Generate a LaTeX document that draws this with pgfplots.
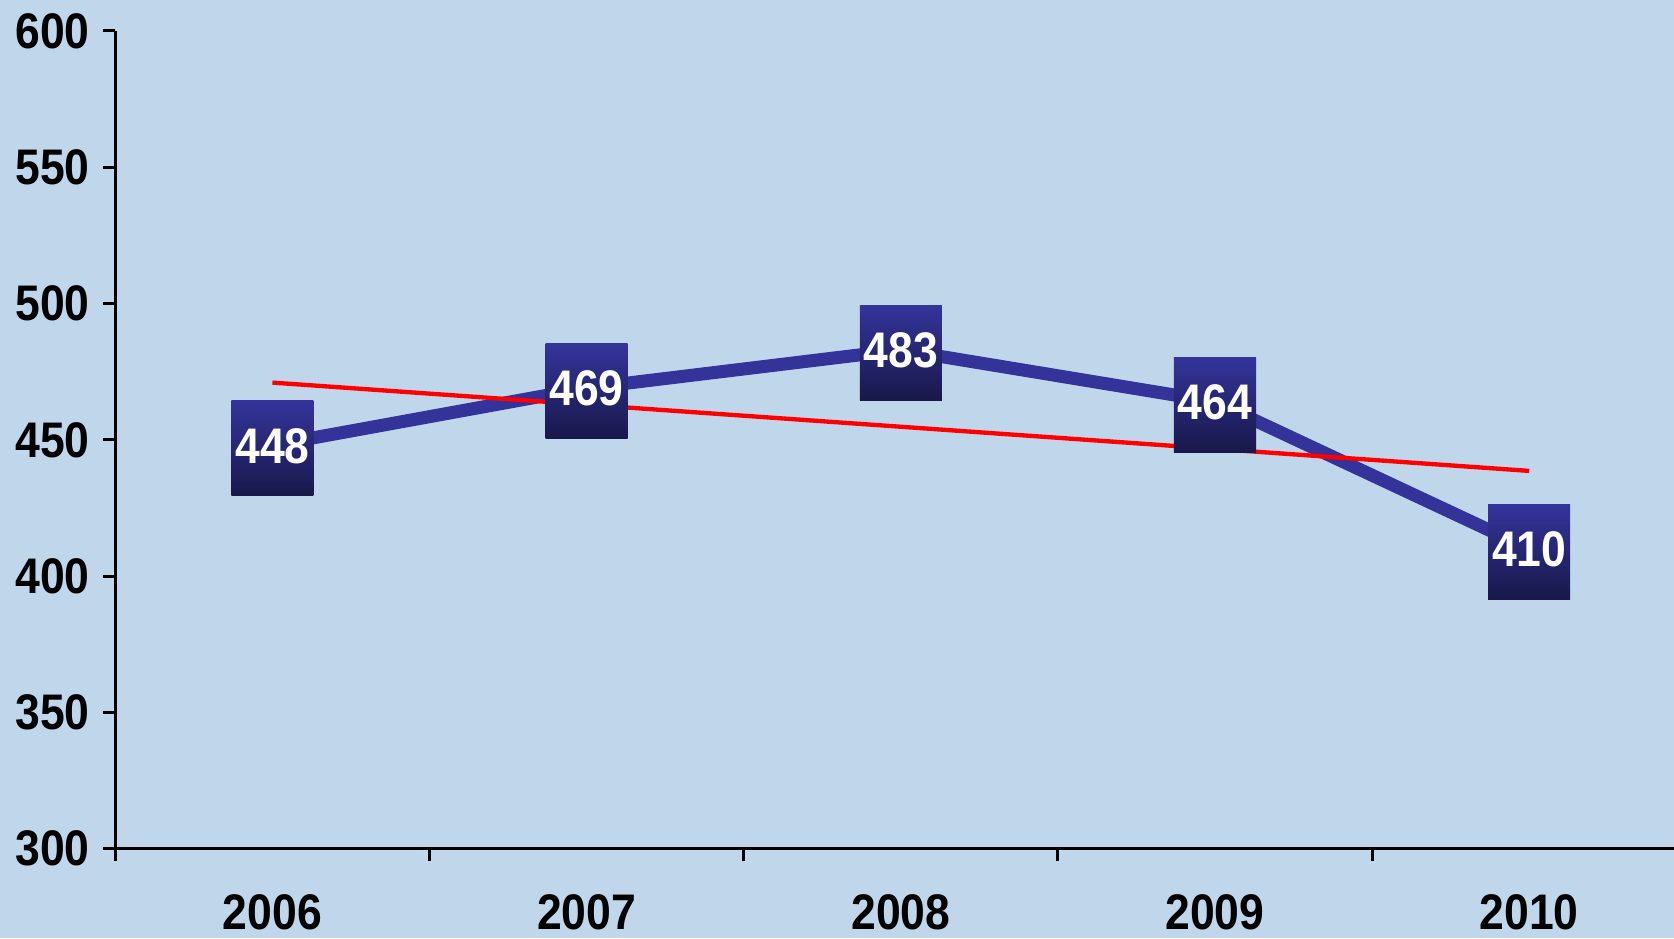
\documentclass[border=0pt]{standalone}
\usepackage{fontspec}
\setmainfont{Liberation Sans}[FakeStretch=0.89]
\usepackage{pgfplots}
\pgfplotsset{compat=1.18}
\definecolor{bg}{RGB}{192,214,235}
\definecolor{lineblue}{RGB}{51,51,153}
\definecolor{boxtop}{RGB}{52,52,156}
\definecolor{boxbot}{RGB}{24,24,74}
\begin{document}
\begin{tikzpicture}
\useasboundingbox (0,0) rectangle (502.2pt,281.4pt);
\fill[bg] (0,0) rectangle (502.2pt,281.4pt);
\begin{axis}[
  at={(34.6pt,26.8pt)}, anchor=south west,
  scale only axis, width=467.6pt, height=245.3pt,
  xmin=-0.5, xmax=4.461, ymin=300, ymax=600,
  axis x line=bottom, axis y line=left,
  axis line style={-, black, line width=0.9pt},
  tick align=outside, major tick length=3.6pt,
  tick style={black, line width=0.9pt},
  xtick={-0.5,0.5,1.5,2.5,3.5,4.5},
  xticklabels={2006,2007,2008,2009,2010,},
  xticklabel style={xshift=47.13pt, yshift=-6.7pt},
  ytick={300,350,...,600},
  yticklabel style={xshift=-0.6pt},
  ticklabel style={font=\bfseries\fontsize{15}{16}\selectfont},
  /pgf/number format/assume math mode=true,
  clip=false,
]
\addplot[lineblue, line width=3.9pt, no marks] coordinates {(0,448) (1,469) (2,483) (3,464) (4,410)};
\addplot[red, line width=1.3pt, no marks] coordinates {(0,471.0) (4,438.6)};
\addplot[draw=none, no marks,
  nodes near coords={\raisebox{1.6pt}{\pgfmathprintnumber{\pgfplotspointmeta}}},
  every node near coord/.style={anchor=center, yshift=-0.9pt, inner sep=0pt,
    minimum width=24.6pt, minimum height=28.5pt,
    top color=boxtop, bottom color=boxbot, text=white,
    font=\bfseries\fontsize{15}{16}\selectfont}]
  coordinates {(0,448) (1,469) (2,483) (3,464) (4,410)};
\end{axis}
\end{tikzpicture}
\end{document}
